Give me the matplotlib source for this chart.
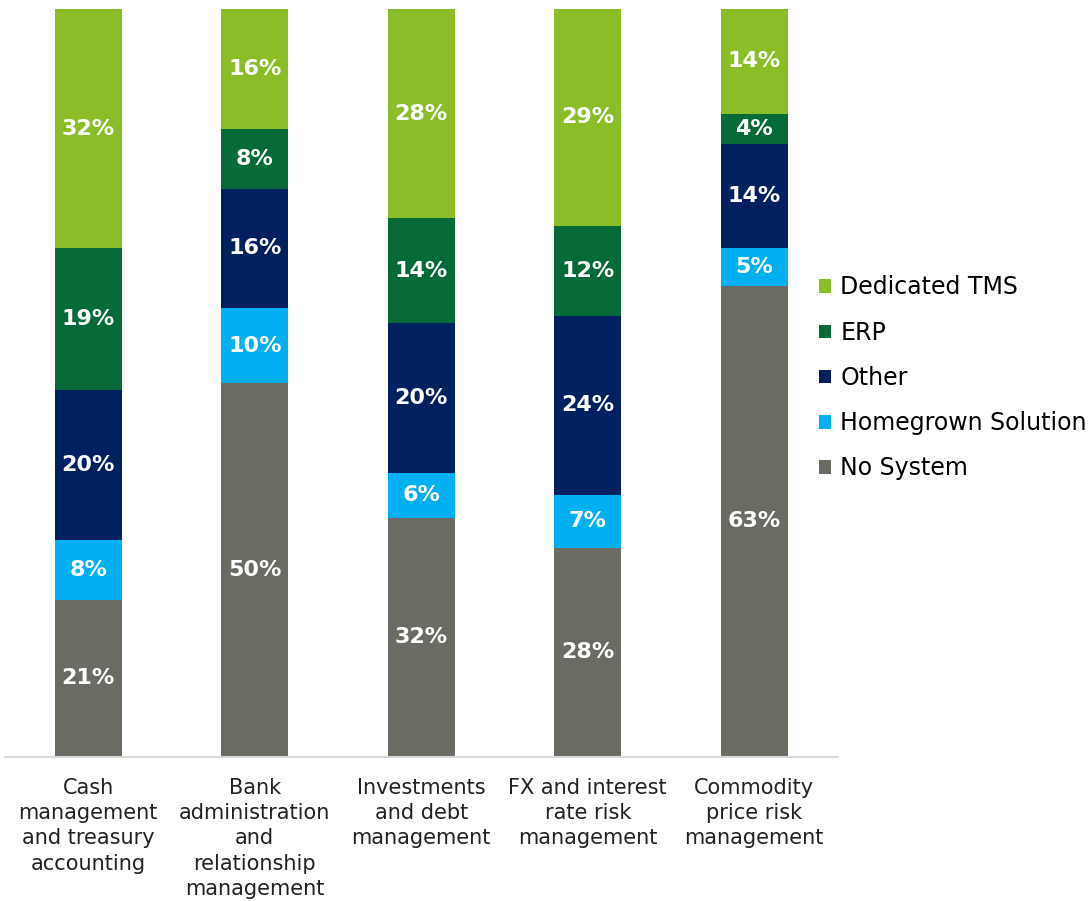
import matplotlib.pyplot as plt
import numpy as np

categorias = ["Cash\nmanagement\nand treasury\naccounting",
              "Bank\nadministration\nand\nrelationship\nmanagement",
              "Investments\nand debt\nmanagement",
              "FX and interest\nrate risk\nmanagement",
              "Commodity\nprice risk\nmanagement"]

series = ["No System", "Homegrown Solution", "Other", "ERP", "Dedicated TMS"]
no_system = [21, 50, 32, 28, 63]
homegrown = [8, 10, 6, 7, 5]
other = [20, 16, 20, 24, 14]
erp = [19, 8, 14, 12, 4]
tms = [32, 16, 28, 29, 14]

colores = ["#6B6B63", "#00B0F0", "#002060", "#066A38", "#8BBD28"]

fig = plt.figure(figsize=(10.91, 9.01), dpi=100)
ax = fig.add_axes([5 / 1091, 144 / 901, 832.5 / 1091, 748 / 901])

x = np.arange(len(categorias))
base = np.zeros(len(categorias))
handles = []
for nombre, valores, color in zip(series, [no_system, homegrown, other, erp, tms], colores):
    barras = ax.bar(x, valores, 0.40, bottom=base, color=color, label=nombre)
    handles.append(barras)
    for xi, b, v in zip(x, base, valores):
        ax.text(xi, b + v / 2, f"{v}%", ha="center", va="center", color="white",
                fontsize=16, fontweight="bold")
    base += np.array(valores)

ax.set_xlim(-0.5, 4.5)
ax.set_ylim(0, 100)
ax.set_yticks([])
ax.set_xticks(x)
ax.set_xticklabels(categorias, fontsize=15, color="#222222", linespacing=1.33)
ax.tick_params(axis="x", length=0, pad=15)
for lado in ["top", "right", "left"]:
    ax.spines[lado].set_visible(False)
ax.spines["bottom"].set_color("#D9D9D9")
ax.spines["bottom"].set_linewidth(1.5)

fig.legend(handles[::-1], series[::-1], loc="center left", bbox_to_anchor=(819 / 1091, 1 - 378 / 901),
           frameon=False, fontsize=17, handlelength=0.5, handleheight=0.5, handletextpad=0.4,
           labelspacing=0.9, borderpad=0, borderaxespad=0)

plt.savefig("out.png", dpi=100)
